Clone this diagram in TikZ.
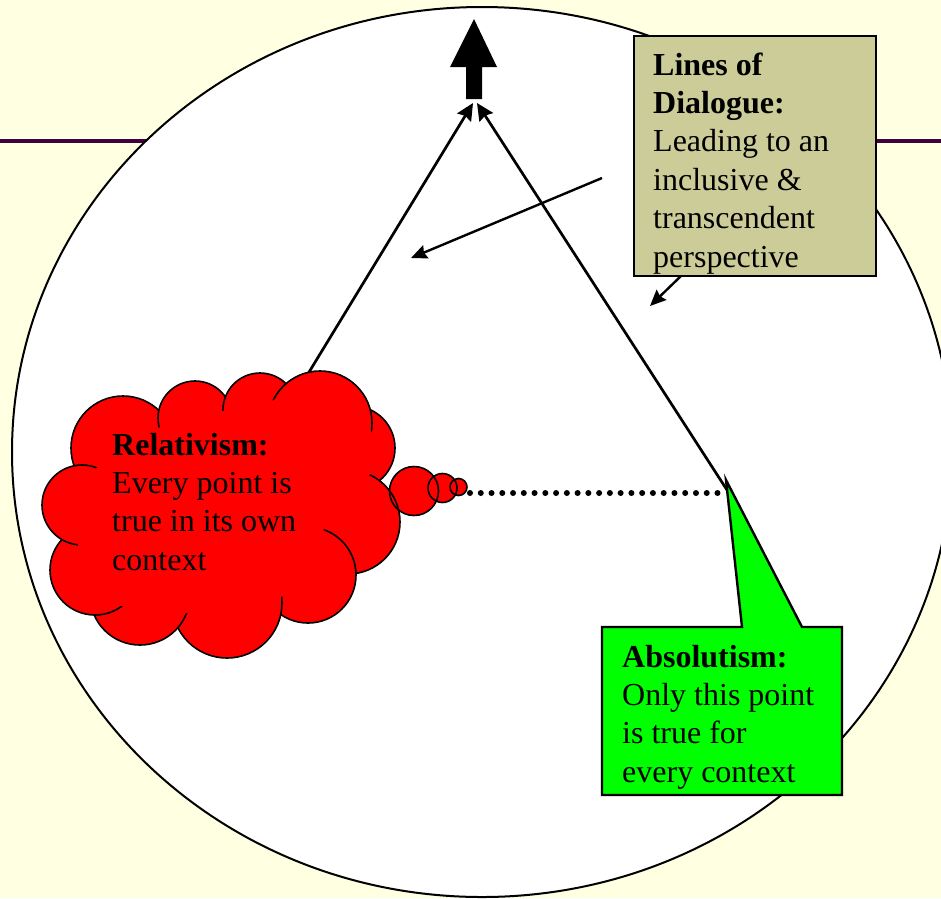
\documentclass[tikz,border=0pt]{standalone}
\usepackage{fontspec}
\setmainfont{Liberation Serif}
\usetikzlibrary{arrows.meta,shapes.geometric}
\definecolor{bgyellow}{RGB}{255,255,225}
\definecolor{rulepurple}{RGB}{64,0,64}
\definecolor{olivebox}{RGB}{204,204,153}
\definecolor{cloudred}{RGB}{255,0,0}
\definecolor{calloutgreen}{RGB}{0,255,0}
\newcommand{\blocktext}[1]{{\fontsize{32}{38.4}\selectfont\begin{tabular}[t]{@{}l@{}}#1\end{tabular}}}
\tikzset{
  txt/.style={anchor=base west, inner sep=0pt},
  mainline/.style={line width=2.7pt, -{Stealth[length=17pt,width=16pt,inset=2pt]}},
  pointer/.style={line width=2.4pt, -{Stealth[length=16pt,width=14pt,inset=2pt]}},
  puff/.style={fill=cloudred, draw=black, line width=1.6pt},
  puffline/.style={draw=black, line width=1.6pt},
  boxframe/.style={draw=black, line width=2.4pt, rectangle, inner sep=0pt},
}
\begin{document}
\begin{tikzpicture}[x=1pt,y=-1pt]
\useasboundingbox (0,0) rectangle (941,898);
\clip (0,0) rectangle (941,898);
\fill[bgyellow] (0,0) rectangle (941,898);
% slide rule
\coordinate (ruleL) at (0,141);
\coordinate (ruleR) at (941,141);
\draw[rulepurple, line width=4pt] (ruleL) -- (ruleR);
% big ellipse
\node[draw=black, fill=white, line width=2pt, ellipse, minimum width=940, minimum height=890, inner sep=0pt] (world) at (482,452) {};
% top block arrow
\fill[black] (474,19) -- (497,67) -- (482,67) -- (482,99) -- (466,99) -- (466,67) -- (450,67) -- cycle;
\coordinate (apexL) at (473,103);
\coordinate (apexR) at (477,103);
\coordinate (cloudTop) at (303,382);
\coordinate (absTip) at (727,490);
\draw[mainline] (cloudTop) -- (apexL);
\draw[mainline] (absTip) -- (apexR);
% dialogue arrows
\coordinate (d1s) at (602,178);
\coordinate (d1e) at (411,258);
\coordinate (d2s) at (682,275);
\coordinate (d2e) at (650,306);
\draw[pointer] (d1s) -- (d1e);
\draw[pointer] (d2s) -- (d2e);
% dialogue box
\node[boxframe, fill=olivebox, minimum width=242, minimum height=240, anchor=north west] (dlg) at (633,35) {};
\node[txt] (dlgtext) at (653,75) {\blocktext{\textbf{Lines of}\\\textbf{Dialogue:}\\Leading to an\\inclusive \&\\transcendent\\perspective}};
% dotted line
\coordinate (dotA) at (470,493);
\coordinate (dotB) at (717.5,493);
\draw[line width=6pt, line cap=round, dash pattern=on 0pt off 10.76pt] (dotA) -- (dotB);
% cloud
\draw[puff] (123,448) circle (52);
\draw[puff] (195,418) circle (37);
\draw[puff] (260,410) circle (37);
\draw[puff] (353,448) circle (42);
\draw[puff] (320,423) circle (52);
\draw[puff] (348,522) circle (52);
\draw[puff] (308,575) circle (48);
\draw[puff] (227,603) circle (55);
\draw[puff] (140,595) circle (50);
\draw[puff] (95,570) circle (45);
\draw[puff] (82,505) circle (40);
\fill[cloudred] (165,424) -- (227,410) -- (284,398) -- (320,392) -- (362,416) -- (385,455) -- (366,479) -- (325,522) -- (318,560) -- (275,603) -- (179,614) -- (101,603) -- (75,537) -- (86,475) -- cycle;
% thought bubbles
\fill[cloudred] (414,491) circle (24.5);
\fill[cloudred] (442.5,488) circle (14.5);
\fill[cloudred] (458.5,487) circle (8.5);
\begin{scope}
\clip (414,491) circle (24.5);
\draw[puffline] (353,448) circle (42);
\draw[puffline] (348,522) circle (52);
\end{scope}
\draw[puffline] (414,491) circle (24.5);
\draw[puffline] (442.5,488) circle (14.5);
\draw[puffline] (458.5,487) circle (8.5);
\node[txt] (reltext) at (112,455) {\blocktext{\textbf{Relativism:}\\Every point is\\true in its own\\context}};
% absolutism callout
\draw[black, line width=2.4pt, fill=calloutgreen, line join=miter] (602,627) -- (742,627) -- (726,480) -- (802,627) -- (842,627) -- (842,795) -- (602,795) -- cycle;
\node[txt] (abstext) at (622,667) {\blocktext{\textbf{Absolutism:}\\Only this point\\is true for\\every context}};
\end{tikzpicture}
\end{document}
